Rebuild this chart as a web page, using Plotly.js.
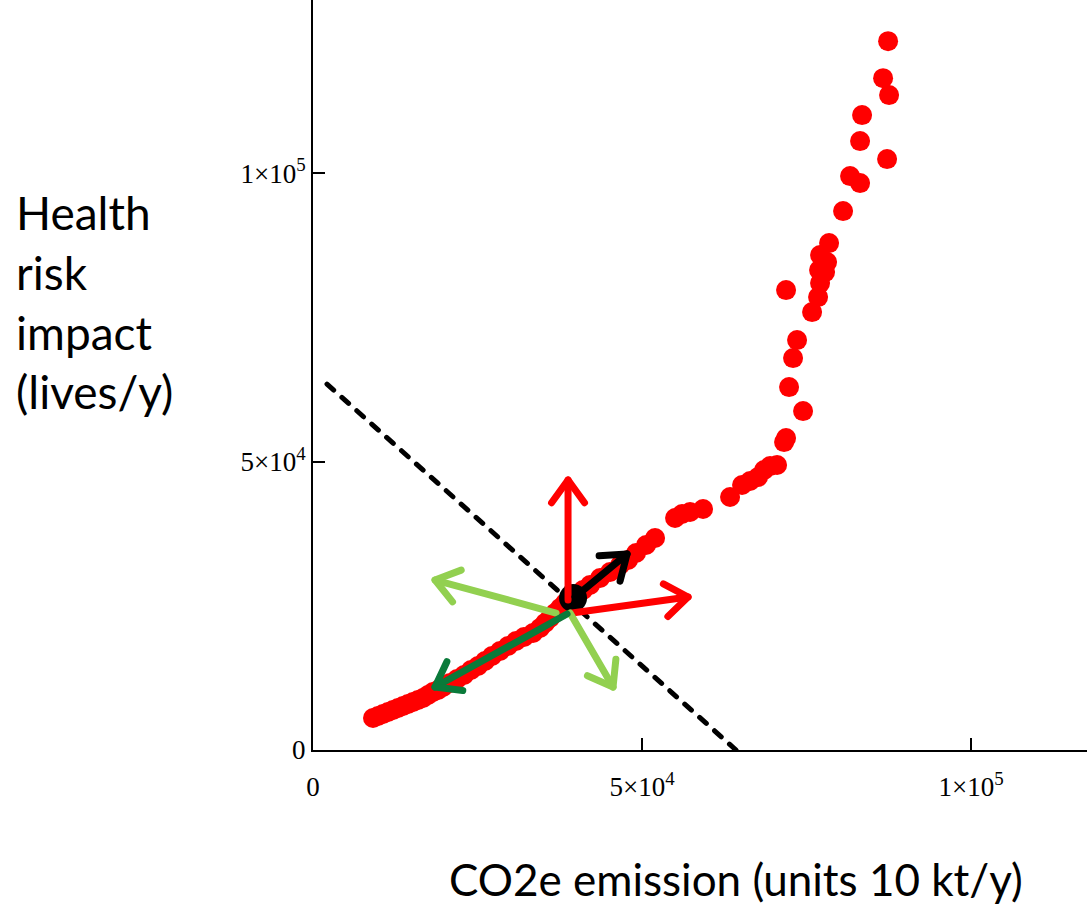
<!DOCTYPE html>
<html>
<head>
<meta charset="utf-8">
<script src="https://cdn.plot.ly/plotly-3.0.1.min.js"></script>
<style>
html,body{margin:0;padding:0;background:#fff;}
#chart{width:1087px;height:905px;}
.scatterlayer .js-line{stroke-linecap:round;stroke-linejoin:round;}
</style>
</head>
<body>
<div id="chart"></div>
<script>
// Emission (x) vs health impact (y) data points
const emission = [9120,9880,10640,11400,12160,12920,13680,14440,15200,15960,16720,17480,18240,19000,19760,20824,21888,22952,24016,25080,26144,27208,28424,29640,30856,32072,33440,34504,35264,36024,36784,37544,38304,39368,40280,41040,42104,43624,45144,46664,47880,49096,50616,51984,55024,56088,57304,59280,63384,65208,66424,67640,68552,69464,70528,71592,71896,74480,72352,72960,73568,75848,71896,76760,77064,77824,78128,76912,77064,78432,80560,81624,83144,87248,83144,83448,87552,86640,87400];
const health = [5546,5892,6239,6585,6932,7279,7625,7972,8318,8665,9012,9532,10051,10398,10918,11611,12304,12998,13864,14557,15424,16290,17157,18023,18890,19583,20276,21143,22009,22876,23742,24609,25475,26342,27035,27728,28595,29808,30847,32061,32927,34140,35527,36740,40206,40899,41245,41765,43845,45925,46618,47311,48524,49217,49391,53376,54070,58749,62908,67934,71053,75905,79718,78505,80931,82837,84570,83184,85784,87863,93409,99474,98261,102420,105540,110046,113512,116458,122870];

// Current operating point
const pointX = [39520];
const pointY = [26342];

// Dashed trade-off line
const dashX = [2128, 64296];
const dashY = [63428, 0];

// Arrows: start/end in data units
const arrowX0 = [38760, 39368, 39824, 36936, 39064, 38608];
const arrowY0 = [25995, 23742, 26515, 23742, 23742, 23569];
const arrowX1 = [38760, 57000, 47728, 18544, 45600, 18544];
const arrowY1 = [46791, 26515, 33967, 29461, 10918, 10918];
const arrowColor = ['#FF0000', '#FF0000', '#000000', '#92D050', '#92D050', '#0A7A3A'];

// Axis tick labels
const xTickVals = [0, 50000, 100000];
const xTickText = ['0', '5×10<sup>4</sup>', '1×10<sup>5</sup>'];
const yTickVals = [0, 50000, 100000];
const yTickText = ['0', '5×10<sup>4</sup>', '1×10<sup>5</sup>'];

const xRange = [0, 117630];
const yRange = [0, 130000];
const W = 1087, H = 905, ML = 313, MR = 0, MT = 0, MB = 155;
const sx = (W - ML - MR) / (xRange[1] - xRange[0]);
const sy = (H - MT - MB) / (yRange[1] - yRange[0]);

function arrowTrace(x0, y0, x1, y1, color) {
  const dx = (x1 - x0) * sx, dy = (y1 - y0) * sy;
  const len = Math.hypot(dx, dy);
  const ux = dx / len, uy = dy / len;
  const L = 28, a = 36 * Math.PI / 180;
  const hx = [], hy = [];
  [a, -a].forEach(t => {
    const rx = ux * Math.cos(t) - uy * Math.sin(t);
    const ry = ux * Math.sin(t) + uy * Math.cos(t);
    hx.push(x1 - L * rx / sx);
    hy.push(y1 - L * ry / sy);
  });
  return {
    x: [x0, x1, null, hx[0], x1, hx[1]],
    y: [y0, y1, null, hy[0], y1, hy[1]],
    mode: 'lines', type: 'scatter', hoverinfo: 'skip',
    line: {color: color, width: 7}
  };
}

const traces = [
  {x: emission, y: health, mode: 'markers', type: 'scatter',
   marker: {color: '#FF0000', size: 20, line: {width: 0}}},
  {x: dashX, y: dashY, mode: 'lines', type: 'scatter',
   line: {color: '#000000', width: 5, dash: '9px,11px'}},
  {x: pointX, y: pointY, mode: 'markers', type: 'scatter',
   marker: {color: '#000000', size: 28}}
];
for (let i = 0; i < arrowX0.length; i++) {
  traces.push(arrowTrace(arrowX0[i], arrowY0[i], arrowX1[i], arrowY1[i], arrowColor[i]));
}

const tickFont = {family: 'Liberation Serif, Times New Roman, serif', size: 27, color: '#000'};

const layout = {
  width: W, height: H,
  margin: {l: ML, r: MR, t: MT, b: MB, pad: 0},
  paper_bgcolor: '#fff', plot_bgcolor: '#fff',
  showlegend: false,
  xaxis: {
    range: xRange, showgrid: false, zeroline: false,
    showline: true, linecolor: '#000', linewidth: 2,
    ticks: 'inside', ticklen: 12, tickwidth: 2, tickcolor: '#000',
    tickmode: 'array', tickvals: xTickVals, ticktext: xTickText,
    tickfont: tickFont, ticklabelstandoff: 12
  },
  yaxis: {
    range: yRange, showgrid: false, zeroline: false,
    showline: true, linecolor: '#000', linewidth: 2,
    ticks: 'inside', ticklen: 12, tickwidth: 2, tickcolor: '#000',
    tickmode: 'array', tickvals: yTickVals, ticktext: yTickText,
    tickfont: tickFont, ticklabelstandoff: 0
  },
  annotations: [
    {text: 'Health<br>risk<br>impact<br>(lives/y)', xref: 'paper', yref: 'paper',
     x: (14 - ML) / (W - ML - MR), y: (H - MB - 302) / (H - MT - MB),
     xanchor: 'left', yanchor: 'middle', align: 'left', showarrow: false,
     font: {family: 'Lato, Noto Sans, sans-serif', size: 46, color: '#000'}},
    {text: 'CO2e emission (units 10 kt/y)', xref: 'paper', yref: 'paper',
     x: (736 - ML) / (W - ML - MR), y: (H - MB - 879) / (H - MT - MB),
     xanchor: 'center', yanchor: 'middle', showarrow: false,
     font: {family: 'Lato, Noto Sans, sans-serif', size: 44, color: '#000'}}
  ]
};

Plotly.newPlot('chart', traces, layout, {displayModeBar: false, staticPlot: true});
</script>
</body>
</html>
